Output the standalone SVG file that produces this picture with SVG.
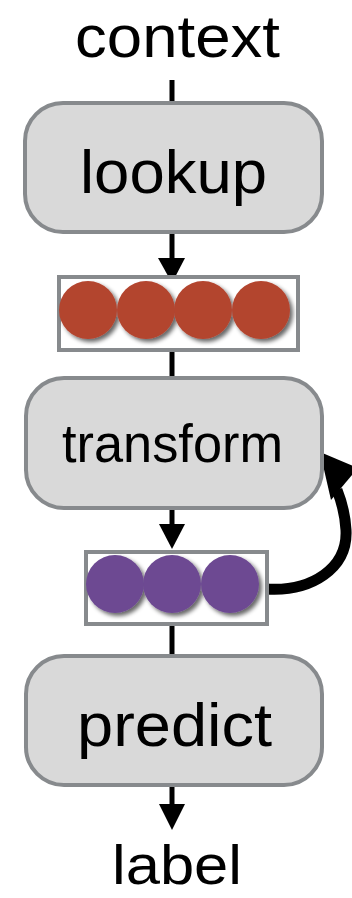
<svg xmlns="http://www.w3.org/2000/svg" width="352" height="898" viewBox="0 0 352 898">
<style>
.box{fill:#d9d9d9;stroke:#878a8d;stroke-width:4}
.vec{fill:#ffffff;stroke:#878a8d;stroke-width:4}
.t{font-family:"Liberation Sans",Arial,sans-serif;fill:#000}
.ln{stroke:#000;stroke-width:5;fill:none}
.red{fill:#b3442f}
.pur{fill:#6d4a92}
</style>
<defs>
<filter id="sh" x="-30%" y="-30%" width="170%" height="170%">
<feGaussianBlur in="SourceAlpha" stdDeviation="2"/>
<feOffset dx="3" dy="3" result="b"/>
<feComponentTransfer><feFuncA type="linear" slope="0.6"/></feComponentTransfer>
<feMerge><feMergeNode/><feMergeNode in="SourceGraphic"/></feMerge>
</filter>
</defs>
<g id="connectors">
<line class="ln" x1="172" y1="80" x2="172" y2="103"/>
<line class="ln" x1="172" y1="232" x2="172" y2="262"/>
<polygon points="158,258 185,258 172,283"/>
<line class="ln" x1="172" y1="351" x2="172" y2="378"/>
<line class="ln" x1="172" y1="508" x2="172" y2="528"/>
<polygon points="159,524 185,524 172,549"/>
<line class="ln" x1="172" y1="625" x2="172" y2="655"/>
<line class="ln" x1="172" y1="785" x2="172" y2="808"/>
<polygon points="159,804 185,804 172,830"/>
<path d="M266,589 C312,592 348,568 346,530 C345,512 341,500 337,490" stroke="#000" stroke-width="11" fill="none"/>
<polygon points="320,452 331,500 358,468"/>
</g>
<g id="context"><text class="t" x="75" y="57" font-size="60" textLength="205" lengthAdjust="spacingAndGlyphs">context</text></g>
<g id="lookup">
<rect class="box" x="25" y="103" width="297" height="129" rx="38"/>
<text class="t" x="80" y="193" font-size="62" textLength="187" lengthAdjust="spacingAndGlyphs">lookup</text>
</g>
<g id="embedding">
<rect class="vec" x="59" y="277" width="239" height="73"/>
<g filter="url(#sh)">
<circle class="red" cx="88" cy="310" r="29"/>
<circle class="red" cx="146" cy="310" r="29"/>
<circle class="red" cx="203" cy="310" r="29"/>
<circle class="red" cx="261" cy="310" r="29"/>
</g>
</g>
<g id="transform">
<rect class="box" x="26" y="378" width="296" height="130" rx="38"/>
<text class="t" x="62" y="462" font-size="53" textLength="221" lengthAdjust="spacingAndGlyphs">transform</text>
</g>
<g id="hidden">
<rect class="vec" x="86" y="552" width="181" height="72"/>
<g filter="url(#sh)">
<circle class="pur" cx="115" cy="584" r="29"/>
<circle class="pur" cx="172" cy="584" r="29"/>
<circle class="pur" cx="230" cy="584" r="29"/>
</g>
</g>
<g id="predict">
<rect class="box" x="26" y="656" width="296" height="129" rx="38"/>
<text class="t" x="77" y="746" font-size="62" textLength="195" lengthAdjust="spacingAndGlyphs">predict</text>
</g>
<g id="label"><text class="t" x="112" y="884" font-size="55" textLength="130" lengthAdjust="spacingAndGlyphs">label</text></g>
</svg>
